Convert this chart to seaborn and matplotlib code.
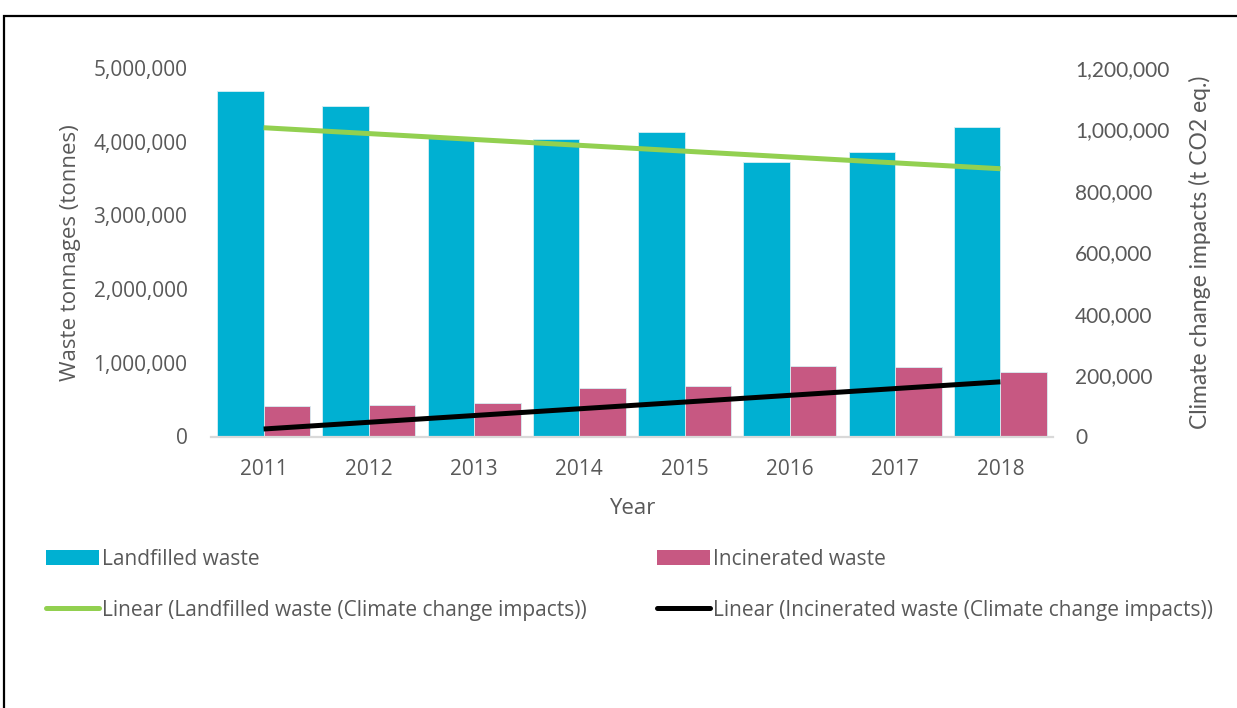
import matplotlib
matplotlib.use("Agg")
import matplotlib.pyplot as plt
from matplotlib.ticker import FuncFormatter, MultipleLocator
from matplotlib.patches import Patch, Rectangle
from matplotlib.lines import Line2D
import seaborn as sns
import pandas as pd

# Annual waste tonnages by treatment route
years = ["2011", "2012", "2013", "2014", "2015", "2016", "2017", "2018"]
landfilled = [4684000, 4480000, 4045000, 4035000, 4130000, 3730000, 3860000, 4195000]
incinerated = [418000, 427000, 450000, 654000, 689000, 957000, 939000, 879000]

# Linear trends of climate change impacts (t CO2 eq.), first and last year
trend_years = ["2011", "2018"]
trend_landfilled = [1005500, 872000]
trend_incinerated = [24400, 178000]

series_names = ["Landfilled waste", "Incinerated waste"]
trend_names = ["Linear (Landfilled waste (Climate change impacts))",
               "Linear (Incinerated waste (Climate change impacts))"]

c_land = "#00B0D2"
c_inc = "#C75882"
c_green = "#92D050"
c_black = "#000000"
txt = "#595959"

sns.set_theme(style="white")
plt.rcParams["font.family"] = ["Open Sans", "DejaVu Sans"]

df = pd.DataFrame({
    "Year": years * 2,
    "Tonnes": landfilled + incinerated,
    "Type": [series_names[0]] * len(years) + [series_names[1]] * len(years),
})

fig = plt.figure(figsize=(12.37, 7.08), dpi=100)
ax = fig.add_axes([211 / 1237, 1 - 436.5 / 708, (1053 - 211) / 1237, (436.5 - 68) / 708])

sns.barplot(data=df, x="Year", y="Tonnes", hue="Type", order=years,
            hue_order=series_names, palette=[c_land, c_inc], saturation=1,
            width=0.884, ax=ax, legend=False, edgecolor="#d8eef3", linewidth=0.6)

ax.set_ylim(0, 5000000)
ax.yaxis.set_major_locator(MultipleLocator(1000000))
ax.yaxis.set_major_formatter(FuncFormatter(lambda v, p: f"{v:,.0f}"))

ax2 = ax.twinx()
xpos = [years.index(y) for y in trend_years]
sns.lineplot(x=xpos, y=trend_landfilled, ax=ax2, color=c_green, lw=3.6,
             solid_capstyle="butt")
sns.lineplot(x=xpos, y=trend_incinerated, ax=ax2, color=c_black, lw=3.6,
             solid_capstyle="butt")
ax2.set_ylim(0, 1200000)
ax2.yaxis.set_major_locator(MultipleLocator(200000))
ax2.yaxis.set_major_formatter(FuncFormatter(lambda v, p: f"{v:,.0f}"))
ax.set_xlim(-0.5, len(years) - 0.5)

for a in (ax, ax2):
    for s in a.spines.values():
        s.set_visible(False)
ax.spines["bottom"].set_visible(True)
ax.spines["bottom"].set_color("#D9D9D9")
ax.spines["bottom"].set_linewidth(1.6)

ax.tick_params(axis="y", length=0, pad=17, labelsize=15, labelcolor=txt)
ax.tick_params(axis="x", length=0, pad=16, labelsize=15, labelcolor=txt)
ax2.tick_params(axis="y", length=0, pad=16, labelsize=15, labelcolor=txt)
for lab in ax2.get_yticklabels():
    lab.set_family(["Lato", "DejaVu Sans"])
    lab.set_fontsize(15)

ax.set_xlabel("Year", fontsize=16, color=txt, labelpad=13.5)
ax.set_ylabel("Waste tonnages (tonnes)", fontsize=16, color=txt, labelpad=9)
ax2.set_ylabel("Climate change impacts (t CO2 eq.)", fontsize=16.5, color=txt,
               labelpad=14, family=["Lato", "DejaVu Sans"])

# legend entries in column order: first column landfilled, second incinerated
handles = [
    Patch(facecolor=c_land, edgecolor="none"),
    Line2D([], [], color=c_green, lw=3.6),
    Patch(facecolor=c_inc, edgecolor="none"),
    Line2D([], [], color=c_black, lw=3.6),
]
labels = [series_names[0], trend_names[0], series_names[1], trend_names[1]]
fig.legend(handles, labels, loc="upper left", bbox_to_anchor=(46 / 1237, 1 - 549 / 708),
           ncol=2, frameon=False, fontsize=15, labelcolor=txt, borderpad=0,
           borderaxespad=0, handlelength=2.55, handleheight=0.7,
           handletextpad=0.12, columnspacing=3.4, labelspacing=1.42)

# outer frame (top and left edges visible)
fig.add_artist(Rectangle((4 / 1237, -0.2), 2.0, 0.2 + (1 - 16 / 708),
                         transform=fig.transFigure, fill=False,
                         edgecolor="black", linewidth=1.6, clip_on=False))

fig.savefig("out.png", dpi=100)
